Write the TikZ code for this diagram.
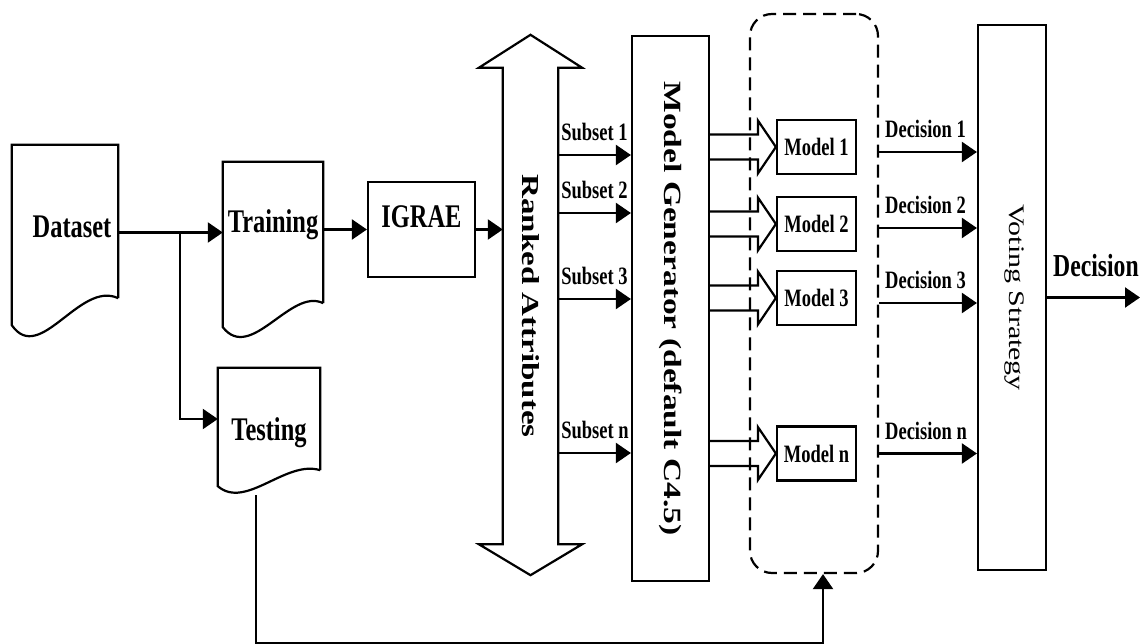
\documentclass[tikz,border=0pt]{standalone}
\usepackage{fontspec}
\setmainfont{Liberation Serif}[FakeStretch=0.74]
\newfontfamily\vfont{Liberation Serif}
\usepackage{graphicx}
\usetikzlibrary{arrows.meta,calc}
% document symbol drawn round a node
\newcommand{\docshape}[2]{%
	\draw[line] (#1.south east) -- (#1.north east) -- (#1.north west) -- ($(#1.south west)+(0,#2)$)
		.. controls ($(#1.south west)+(28,2.5*#2)$) and ($(#1.south west)+(68,-0.67*#2)$) .. (#1.south east);}
% hollow arrow from the generator to a model
\newcommand{\fatarrow}[1]{%
	\draw[line] ($(gen.east |- #1.west)+(0,-12.5)$) -- ($(#1.west)+(-18,-12.5)$) -- ($(#1.west)+(-18,-26.5)$)
		-- (#1.west) -- ($(#1.west)+(-18,26.5)$) -- ($(#1.west)+(-18,12.5)$) -- ($(gen.east |- #1.west)+(0,12.5)$);}
\newcommand{\vtext}[2]{\rotatebox{-90}{\scalebox{1}[0.74]{\fontsize{#1}{#1}\vfont #2}}}
\newcommand{\shifted}[2]{\raisebox{#1}[0pt][0pt]{#2}}

\begin{document}
\begin{tikzpicture}[x=1pt,y=-1pt,
	line/.style={line width=2.2pt},
	box/.style={draw,line width=2.2pt,inner sep=0pt},
	arr/.style={line width=2.2pt,-{Triangle[length=15pt,width=20pt]}},
	big/.style={font=\fontsize{33}{36}\selectfont\bfseries},
	small/.style={font=\fontsize{25}{28}\selectfont\bfseries},
	lab/.style={small,anchor=south west,inner sep=0pt,yshift=13pt}]
	\useasboundingbox (0,0) rectangle (1140,644);

	\node[big,inner sep=0pt,minimum width=106pt,minimum height=153pt] (data) at (65,221.5) {\hspace*{14pt}\shifted{-16.4pt}{Dataset}};
	\docshape{data}{27}
	\node[big,inner sep=0pt,minimum width=100pt,minimum height=141pt] (train) at (273,232.5) {\shifted{-0.4pt}{Training}};
	\docshape{train}{24}
	\node[big,inner sep=0pt,minimum width=102pt,minimum height=102pt] (test) at (269,419) {\shifted{-21.9pt}{Testing}};
	\docshape{test}{16}
	\node[box,big,minimum width=107pt,minimum height=95pt] (igrae) at (421.5,229.5) {\shifted{2.1pt}{IGRAE}};

	% ranked attributes, double arrow
	\node[inner sep=0pt,minimum width=55pt,minimum height=476pt] (ranked) at (530.5,306) {\vtext{33}{\bfseries Ranked Attributes}};
	\draw[line] (ranked.north west) -- ++(-24,0) -- ($(ranked.north)+(0,-33)$) -- ($(ranked.north east)+(24,0)$)
		-- (ranked.north east) -- (ranked.south east) -- ++(24,0) -- ($(ranked.south)+(0,31)$)
		-- ($(ranked.south west)+(-24,0)$) -- (ranked.south west) -- cycle;

	\node[box,minimum width=77pt,minimum height=545pt] (gen) at (670.5,308.5) {\vtext{33.5}{\bfseries Model Generator (default C4.5)}};
	\node[draw,line width=2.2pt,dash pattern=on 13pt off 7pt,rounded corners=22pt,minimum width=128pt,minimum height=559pt] (ens) at (814,293.5) {};
	\node[box,minimum width=68pt,minimum height=545pt] (vote) at (1012,297.5) {\hspace*{4pt}\vtext{30}{Voting Strategy}};

	\node[box,small,minimum width=79pt,minimum height=54pt] (m1) at (816.5,147) {Model 1};
	\node[box,small,minimum width=79pt,minimum height=54pt] (m2) at (816.5,224) {Model 2};
	\node[box,small,minimum width=79pt,minimum height=54pt] (m3) at (816.5,298) {Model 3};
	\node[box,small,minimum width=79pt,minimum height=54pt] (mn) at (816.5,453.5) {Model n};

	% dataset split
	\coordinate (split) at ($(data.east |- train.west)!0.59!(train.west)$);
	\draw[arr] (data.east |- train.west) -- (train.west);
	\draw[arr] (split) |- (test.west);
	\draw[arr] (train.east |- igrae.west) -- (igrae.west);
	\draw[arr] (igrae.east) -- (ranked.west |- igrae.east);

	\draw[arr] (ranked.east |- 0,155) node[lab,xshift=2pt] {Subset 1} -- (gen.west |- 0,155);
	\draw[arr] (ranked.east |- 0,213) node[lab,xshift=2pt] {Subset 2} -- (gen.west |- 0,213);
	\draw[arr] (ranked.east |- 0,299) node[lab,xshift=2pt] {Subset 3} -- (gen.west |- 0,299);
	\draw[arr] (ranked.east |- 0,453) node[lab,xshift=2pt] {Subset n} -- (gen.west |- 0,453);

	\fatarrow{m1}
	\fatarrow{m2}
	\fatarrow{m3}
	\fatarrow{mn}

	\draw[arr] ($(ens.east |- m1.east)+(0,5)$) node[lab,xshift=5pt] {Decision 1} -- ($(vote.west |- m1.east)+(0,5)$);
	\draw[arr] ($(ens.east |- m2.east)+(0,4)$) node[lab,xshift=5pt] {Decision 2} -- ($(vote.west |- m2.east)+(0,4)$);
	\draw[arr] ($(ens.east |- m3.east)+(0,5)$) node[lab,xshift=5pt] {Decision 3} -- ($(vote.west |- m3.east)+(0,5)$);
	\draw[arr] (ens.east |- mn.east) node[lab,xshift=5pt] {Decision n} -- (vote.west |- mn.east);

	\coordinate (out) at (1140,297.5);
	\draw[arr] (vote.east) node[big,font=\fontsize{32}{34}\selectfont\bfseries,anchor=south west,inner sep=0pt,xshift=5pt,yshift=20pt] {Decision} -- (out);

	% testing data fed back to the models
	\coordinate (testout) at ($(test.south west)+(38,25)$);
	\coordinate (feed) at ($(ens.south)+(9,0)$);
	\draw[arr] (testout) -- (testout |- 0,643.5) -| (feed);
\end{tikzpicture}
\end{document}
